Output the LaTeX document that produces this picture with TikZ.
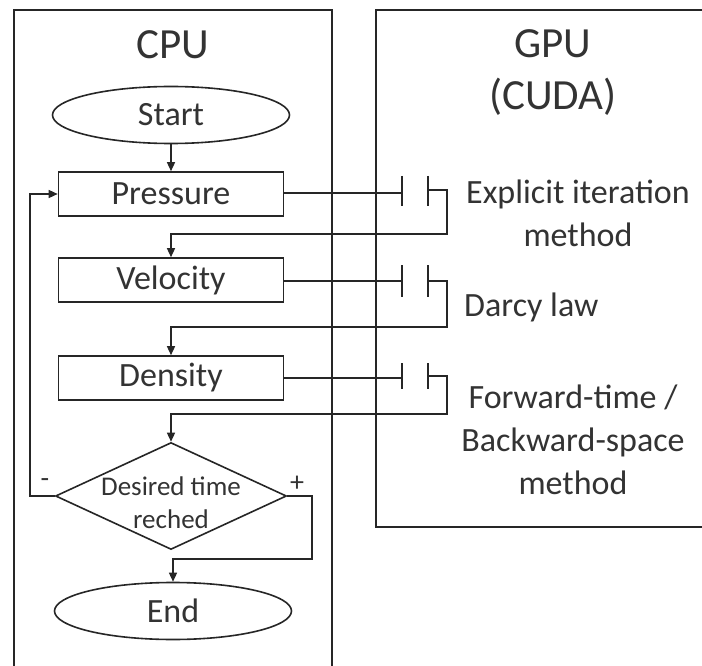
\documentclass[tikz,border=0pt]{standalone}
\usepackage{fontspec}
\setmainfont{Carlito}
\usetikzlibrary{shapes.geometric,arrows.meta}
\definecolor{ink}{HTML}{262626}
\definecolor{txt}{HTML}{333333}
\tikzset{
  panel/.style={draw=ink,line width=1.8pt},
  flowbox/.style={draw=ink,line width=1.6pt,rectangle,minimum width=225pt,minimum height=44pt,inner sep=0pt,text=txt,font=\fontsize{34}{40}\selectfont},
  oval/.style={draw=ink,line width=1.6pt,ellipse,minimum width=237pt,minimum height=57pt,inner sep=0pt,text=txt,font=\fontsize{34}{40}\selectfont},
  decision/.style={draw=ink,line width=1.6pt,diamond,minimum width=231pt,minimum height=107pt,inner sep=0pt},
  conn/.style={draw=ink,line width=1.4pt},
  arrowconn/.style={conn,-{Triangle[length=9pt,width=8pt]}},
  bar/.style={draw=ink,line width=1.6pt},
  title/.style={text=txt,font=\fontsize{43}{50}\selectfont,inner sep=0pt},
  note/.style={text=txt,font=\fontsize{34}{43}\selectfont,align=center,inner sep=0pt},
  sign/.style={text=txt,font=\fontsize{28}{30}\selectfont,inner sep=0pt}
}
\begin{document}
\begin{tikzpicture}[x=1pt,y=-1pt]
\useasboundingbox (0,0) rectangle (702,666);
\clip (0,0) rectangle (702,666);
\fill[white] (0,0) rectangle (702,666);
% panels
\draw[panel] (14,10) rectangle (332,700);
\draw[panel] (376,10) rectangle (740,527);
\node[title] (cpu) at (173,45) {CPU};
\node[title] (gpu) at (553,44) {GPU};
\node[title] (cuda) at (553,97) {(CUDA)};
% flow nodes
\node[oval] (start) at (171,115) {Start};
\node[flowbox] (pressure) at (171,194) {Pressure};
\node[flowbox] (velocity) at (171,280) {Velocity};
\node[flowbox] (density) at (171,378) {Density};
\node[decision] (dec) at (171,496) {};
\node[note,font=\fontsize{27}{33}\selectfont] (dectext) at (171,503) {Desired time\\reched};
\node[oval] (endn) at (173,611) {End};
% gpu labels
\node[note] (lab1) at (578,213) {Explicit iteration\\method};
\node[note,anchor=west] (lab2) at (464,307) {Darcy law};
\node[note] (lab3) at (573,440) {Forward-time /\\Backward-space\\method};
\node[sign] (minus) at (45,483) {-};
\node[sign] (plus) at (297,484) {+};
% coordinates for kernel calls
\coordinate (a1) at (402,193);
\coordinate (b1) at (428,190);
\coordinate (r1) at (447,234);
\coordinate (a2) at (402,281);
\coordinate (b2) at (428,281);
\coordinate (r2) at (447,327);
\coordinate (a3) at (402,378);
\coordinate (b3) at (428,376);
\coordinate (r3) at (447,414);
\coordinate (m) at (30,496);
\coordinate (pl) at (312,559);
% bars
\draw[bar] (402,176) -- (402,206);
\draw[bar] (428,176) -- (428,206);
\draw[bar] (402,265) -- (402,297);
\draw[bar] (428,265) -- (428,297);
\draw[bar] (402,363) -- (402,389);
\draw[bar] (428,363) -- (428,389);
% connectors
\draw[arrowconn] (start.south) -- (pressure.north);
\draw[conn] (pressure.east |- a1) -- (a1);
\draw[arrowconn] (b1) -| (r1) -| (velocity.north);
\draw[conn] (velocity.east |- a2) -- (a2);
\draw[arrowconn] (b2) -| (r2) -| (density.north);
\draw[conn] (density.east |- a3) -- (a3);
\draw[arrowconn] (b3) -| (r3) -| (dec.north);
\draw[arrowconn] (dec.west) -- (m) |- (pressure.west);
\draw[arrowconn] (dec.east) -| (pl) -| (endn.north);
\end{tikzpicture}
\end{document}
